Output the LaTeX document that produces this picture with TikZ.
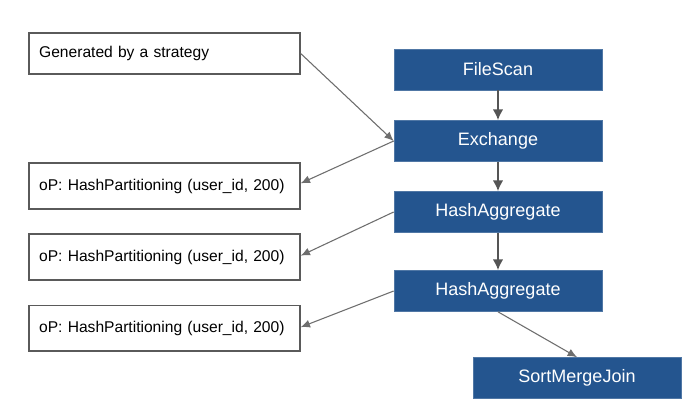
\documentclass[tikz,border=0pt]{standalone}
\usepackage{fontspec}
\setmainfont{Liberation Sans}
\usetikzlibrary{arrows.meta}
\definecolor{bluebox}{RGB}{36,85,143}
\definecolor{boxline}{RGB}{90,90,90}
\definecolor{thinarrow}{RGB}{110,110,110}
\definecolor{thickarrow}{RGB}{85,85,85}
\begin{document}
\begin{tikzpicture}[x=0.75pt,y=-0.75pt,
  wbox/.style={draw=boxline,line width=1pt,fill=white,minimum width=203.25pt,
    text width=196pt,align=left,inner xsep=3.6pt,font=\fontsize{11.7}{14}\selectfont,anchor=center},
  bbox/.style={fill=bluebox,draw=bluebox!80!white,line width=0.5pt,text=white,minimum width=156pt,minimum height=30.75pt,
    font=\fontsize{13.5}{16}\selectfont,inner sep=0pt},
  thin/.style={draw=thinarrow,line width=0.8pt,-{Latex[length=7pt,width=6pt]}},
  thick/.style={draw=thickarrow,line width=1.6pt,-{Latex[length=8pt,width=8pt]}}
]
\useasboundingbox (0,0) rectangle (700,420);
\fill[white] (0,0) rectangle (700,420);
\node[wbox,minimum height=30.75pt] (b1) at (164.5,53.5) {\hspace*{4pt}Generated by a strategy};
\node[wbox,minimum height=34.5pt] (b2) at (164.5,186) {\hspace*{4pt}oP: HashPartitioning (user\_id, 200)};
\node[wbox,minimum height=34.5pt] (b3) at (164.5,257) {\hspace*{4pt}oP: HashPartitioning (user\_id, 200)};
\node[wbox,minimum height=34pt] (b4) at (164.5,328.5) {\hspace*{4pt}oP: HashPartitioning (user\_id, 200)};
\node[bbox] (fs) at (498,69.5) {FileScan};
\node[bbox] (ex) at (498,141) {Exchange};
\node[bbox] (ha1) at (498,212) {HashAggregate};
\node[bbox] (ha2) at (498,291) {HashAggregate};
\node[bbox] (smj) at (577,378) {SortMergeJoin};
\draw[thick] (fs.south) -- (ex.north);
\draw[thick] (ex.south) -- (ha1.north);
\draw[thick] (ha1.south) -- (ha2.north);
\draw[thin] (b1.east) -- (ex.west);
\draw[thin] (ex.west) -- ([yshift=2pt]b2.east);
\draw[thin] (ha1.west) -- ([yshift=1pt]b3.east);
\draw[thin] (ha2.west) -- ([yshift=1pt]b4.east);
\draw[thin] (ha2.south) -- (smj.north);
\end{tikzpicture}
\end{document}
